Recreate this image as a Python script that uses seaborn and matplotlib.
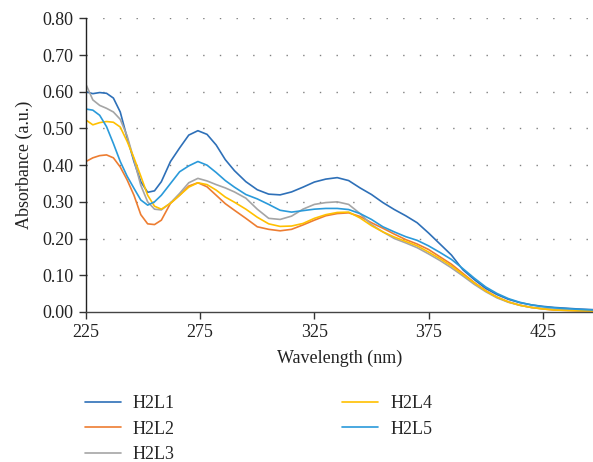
import matplotlib
matplotlib.use("Agg")
import matplotlib.pyplot as plt
from matplotlib.lines import Line2D
import seaborn as sns
import pandas as pd

wavelength = [225, 228, 231, 234, 237, 240, 243, 246, 249, 252, 255, 258, 262, 266, 270,
              274, 278, 282, 286, 290, 295, 300, 305, 310, 315, 320, 325, 330, 335, 340,
              345, 350, 355, 360, 365, 370, 375, 380, 385, 390, 395, 400, 405, 410, 415,
              420, 425, 430, 435, 440, 447]

h2l1 = [0.600, 0.595, 0.598, 0.596, 0.583, 0.545, 0.475, 0.410, 0.355, 0.326, 0.330, 0.355, 0.410, 0.447, 0.482,
        0.494, 0.484, 0.455, 0.415, 0.385, 0.355, 0.333, 0.321, 0.319, 0.327, 0.340, 0.354, 0.362, 0.366, 0.358,
        0.338, 0.320, 0.298, 0.279, 0.262, 0.243, 0.215, 0.185, 0.155, 0.115, 0.088, 0.064, 0.047, 0.034, 0.025,
        0.019, 0.015, 0.012, 0.010, 0.008, 0.006]
h2l2 = [0.410, 0.420, 0.426, 0.428, 0.420, 0.395, 0.360, 0.318, 0.265, 0.240, 0.238, 0.250, 0.296, 0.318, 0.343,
        0.352, 0.341, 0.318, 0.295, 0.277, 0.255, 0.232, 0.225, 0.221, 0.225, 0.237, 0.250, 0.262, 0.268, 0.270,
        0.260, 0.243, 0.228, 0.212, 0.197, 0.185, 0.170, 0.150, 0.130, 0.105, 0.080, 0.058, 0.040, 0.027, 0.018,
        0.012, 0.008, 0.005, 0.004, 0.003, 0.002]
h2l3 = [0.620, 0.578, 0.563, 0.555, 0.545, 0.525, 0.480, 0.415, 0.345, 0.300, 0.280, 0.278, 0.297, 0.323, 0.352,
        0.364, 0.357, 0.347, 0.338, 0.327, 0.310, 0.280, 0.255, 0.252, 0.261, 0.280, 0.293, 0.298, 0.300, 0.293,
        0.268, 0.238, 0.218, 0.200, 0.188, 0.175, 0.158, 0.140, 0.120, 0.098, 0.075, 0.055, 0.038, 0.026, 0.018,
        0.012, 0.009, 0.007, 0.005, 0.004, 0.003]
h2l4 = [0.523, 0.510, 0.516, 0.519, 0.517, 0.504, 0.465, 0.420, 0.370, 0.318, 0.288, 0.280, 0.296, 0.318, 0.340,
        0.352, 0.347, 0.332, 0.313, 0.299, 0.280, 0.258, 0.240, 0.233, 0.234, 0.241, 0.255, 0.265, 0.271, 0.272,
        0.256, 0.235, 0.218, 0.204, 0.192, 0.180, 0.163, 0.145, 0.125, 0.102, 0.079, 0.057, 0.040, 0.027, 0.018,
        0.012, 0.008, 0.005, 0.004, 0.003, 0.002]
h2l5 = [0.553, 0.550, 0.536, 0.505, 0.459, 0.410, 0.370, 0.337, 0.305, 0.291, 0.300, 0.318, 0.350, 0.382, 0.398,
        0.410, 0.400, 0.380, 0.358, 0.340, 0.320, 0.308, 0.293, 0.277, 0.272, 0.276, 0.280, 0.282, 0.282, 0.279,
        0.268, 0.252, 0.232, 0.218, 0.205, 0.195, 0.180, 0.162, 0.143, 0.118, 0.092, 0.068, 0.050, 0.036, 0.026,
        0.019, 0.014, 0.011, 0.009, 0.007, 0.005]

series_names = ["H2L1", "H2L2", "H2L3", "H2L4", "H2L5"]
series_values = [h2l1, h2l2, h2l3, h2l4, h2l5]
colors = ["#2E70B8", "#ED7D31", "#A5A5A5", "#FFC000", "#2A9ADA"]

x_ticks = [225, 275, 325, 375, 425]
y_ticks = [0.0, 0.1, 0.2, 0.3, 0.4, 0.5, 0.6, 0.7, 0.8]

rows = []
for name, vals in zip(series_names, series_values):
    for w, v in zip(wavelength, vals):
        rows.append({"Wavelength": w, "Absorbance": v, "Series": name})
df = pd.DataFrame(rows)

sns.set_theme(style="white")
plt.rcParams["font.family"] = ["Liberation Serif", "DejaVu Serif"]
FS = 13
TXT = "#222222"

fig = plt.figure(figsize=(5.93, 4.62), dpi=100)
ax = fig.add_axes([0.145, 0.325, 0.855, 0.635])

sns.lineplot(data=df, x="Wavelength", y="Absorbance", hue="Series",
             hue_order=series_names, palette=colors, linewidth=1.2,
             ax=ax, legend=False, estimator=None)

ax.set_xlim(225, 447)
ax.set_ylim(0, 0.8)
ax.set_xticks(x_ticks)
ax.set_yticks(y_ticks)
ax.set_yticklabels([f"{t:.2f}" for t in y_ticks], fontsize=FS, color=TXT)
ax.set_xticklabels([str(t) for t in x_ticks], fontsize=FS, color=TXT)
ax.set_xlabel("Wavelength (nm)", fontsize=FS, color=TXT, labelpad=6)
ax.set_ylabel("Absorbance (a.u.)", fontsize=FS, color=TXT, labelpad=7)

for yv in y_ticks[1:]:
    ax.axhline(yv, color="#808080", linewidth=1.0, linestyle=(0, (1, 11)), zorder=0)

for s in ["top", "right"]:
    ax.spines[s].set_visible(False)
ax.spines["left"].set_color("#222222")
ax.spines["left"].set_linewidth(1.0)
ax.spines["bottom"].set_color("#444444")
ax.spines["bottom"].set_linewidth(1.0)
ax.tick_params(axis="both", which="major", direction="out", length=5, width=1.0,
               color="#333333", left=True, bottom=True, pad=4)

handles = [Line2D([0], [0], color=c, linewidth=1.2) for c in colors]
fig.legend(handles, series_names, loc="upper left", bbox_to_anchor=(0.131, 0.160),
           ncol=2, frameon=False, fontsize=FS, handlelength=2.0, handletextpad=0.66,
           columnspacing=9.25, labelspacing=0.47, borderaxespad=0)

fig.savefig("out.png", dpi=100)
